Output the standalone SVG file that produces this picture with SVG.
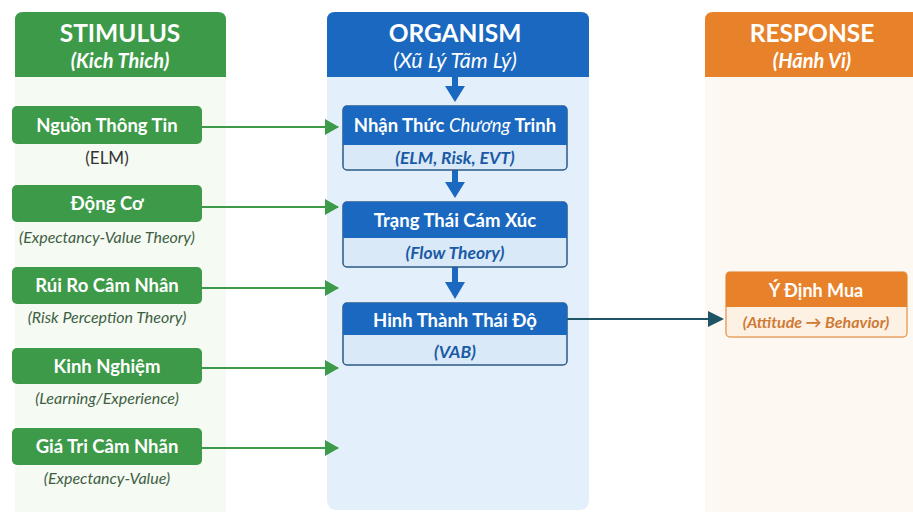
<svg xmlns="http://www.w3.org/2000/svg" width="913" height="512" viewBox="0 0 913 512">
  <style>
    .title { font-family: Lato, "Open Sans", sans-serif; font-weight: 700; font-size: 24.5px; fill: #ffffff; text-anchor: middle; }
    .subtitle { font-family: Lato, "Open Sans", sans-serif; font-weight: 700; font-style: italic; font-size: 20px; fill: #ffffff; text-anchor: middle; }
    .lbl { font-family: Lato, "Open Sans", sans-serif; font-weight: 700; font-size: 18.5px; fill: #ffffff; text-anchor: middle; }
    .note { font-family: Lato, "Open Sans", sans-serif; font-style: italic; font-size: 16px; fill: #3e5e44; text-anchor: middle; }
    .note-plain { font-family: Lato, "Open Sans", sans-serif; font-size: 17px; fill: #333333; text-anchor: middle; }
    .org-sub { font-family: Lato, "Open Sans", sans-serif; font-weight: 700; font-style: italic; font-size: 17.5px; fill: #1a5aa5; text-anchor: middle; }
    .resp-sub { font-family: Lato, "Open Sans", sans-serif; font-weight: 700; font-style: italic; font-size: 16px; fill: #cf7a35; text-anchor: middle; }
    .green-box { fill: #3d9a48; }
    .blue-head { fill: #1a68c0; }
    .blue-sub { fill: #d9e9f8; stroke: #2d5a86; stroke-width: 1.5; }
    .green-link { stroke: #3d9a48; stroke-width: 2.2; fill: none; }
    .blue-link { stroke: #1a68c0; stroke-width: 6; fill: none; }
  </style>
  <defs>
    <marker id="ah-green" markerWidth="15" markerHeight="16" refX="13" refY="8" orient="auto" markerUnits="userSpaceOnUse">
      <path d="M0,0 L14,8 L0,16 Z" fill="#3d9a48"/>
    </marker>
    <marker id="ah-teal" markerWidth="16" markerHeight="16" refX="14" refY="8" orient="auto" markerUnits="userSpaceOnUse">
      <path d="M0,0 L16,8 L0,16 Z" fill="#1d5566"/>
    </marker>
  </defs>

  <rect width="913" height="512" fill="#ffffff"/>

  <!-- column backgrounds -->
  <g id="col-stimulus">
    <rect x="15" y="70" width="211" height="442" fill="#f5faf2"/>
    <path d="M15,77 V20 Q15,12 23,12 H218 Q226,12 226,20 V77 Z" fill="#3d9a48"/>
    <text class="title" x="120" y="42">STIMULUS</text>
    <text class="subtitle" x="120" y="68">(Kich Thich)</text>
  </g>
  <g id="col-organism">
    <path d="M327,70 H589 V500 Q589,510 579,510 H337 Q327,510 327,500 Z" fill="#e3effa"/>
    <path d="M327,77 V20 Q327,12 335,12 H581 Q589,12 589,20 V77 Z" fill="#1a68c0"/>
    <text class="title" x="455" y="42">ORGANISM</text>
    <text class="subtitle" x="455" y="68" style="font-weight:400;font-size:21.5px">(Xũ Lý Tãm Lý)</text>
  </g>
  <g id="col-response">
    <rect x="705" y="70" width="208" height="442" fill="#fdf8f1"/>
    <path d="M705,77 V20 Q705,12 713,12 H913 V77 Z" fill="#e8822a"/>
    <text class="title" x="812" y="42">RESPONSE</text>
    <text class="subtitle" x="812" y="68">(Hãnh Vi)</text>
  </g>

  <!-- connectors -->
  <g id="connectors">
    <line class="green-link" x1="201" y1="127" x2="338" y2="127" marker-end="url(#ah-green)"/>
    <line class="green-link" x1="201" y1="207" x2="338" y2="207" marker-end="url(#ah-green)"/>
    <line class="green-link" x1="201" y1="288" x2="338" y2="288" marker-end="url(#ah-green)"/>
    <line class="green-link" x1="201" y1="368" x2="338" y2="368" marker-end="url(#ah-green)"/>
    <line class="green-link" x1="201" y1="448" x2="338" y2="448" marker-end="url(#ah-green)"/>

    <line class="blue-link" x1="455" y1="77" x2="455" y2="88"/>
    <path d="M445,86 L465,86 L455,102 Z" fill="#1a68c0"/>
    <line class="blue-link" x1="455" y1="170" x2="455" y2="184"/>
    <path d="M445,182 L465,182 L455,198 Z" fill="#1a68c0"/>
    <line class="blue-link" x1="455" y1="267" x2="455" y2="284"/>
    <path d="M445,282 L465,282 L455,299 Z" fill="#1a68c0"/>

    <line x1="567" y1="319" x2="722" y2="319" stroke="#1d5566" stroke-width="2.2" marker-end="url(#ah-teal)"/>
  </g>

  <!-- stimulus nodes -->
  <g id="node-nguon-thong-tin">
    <rect class="green-box" x="12" y="106" width="190" height="38" rx="5"/>
    <text class="lbl" x="107" y="131.5">Nguồn Thông Tin</text>
    <text class="note-plain" x="107" y="164">(ELM)</text>
  </g>
  <g id="node-dong-co">
    <rect class="green-box" x="12" y="185" width="190" height="37" rx="5"/>
    <text class="lbl" x="107" y="210">Động Cơ</text>
    <text class="note" x="107" y="243">(Expectancy-Value Theory)</text>
  </g>
  <g id="node-rui-ro">
    <rect class="green-box" x="12" y="267" width="190" height="37" rx="5"/>
    <text class="lbl" x="107" y="292">Rúi Ro Câm Nhân</text>
    <text class="note" x="107" y="323">(Risk Perception Theory)</text>
  </g>
  <g id="node-kinh-nghiem">
    <rect class="green-box" x="12" y="348" width="190" height="36" rx="5"/>
    <text class="lbl" x="107" y="372.5">Kinh Nghiệm</text>
    <text class="note" x="107" y="404">(Learning/Experience)</text>
  </g>
  <g id="node-gia-tri">
    <rect class="green-box" x="12" y="428" width="190" height="37" rx="5"/>
    <text class="lbl" x="107" y="453">Giá Tri Câm Nhãn</text>
    <text class="note" x="107" y="484">(Expectancy-Value)</text>
  </g>

  <!-- organism nodes -->
  <g id="node-nhan-thuc">
    <rect class="blue-sub" x="343" y="106" width="224" height="64" rx="4"/>
    <path d="M343,145 V110 Q343,106 347,106 H563 Q567,106 567,110 V145 Z" class="blue-head"/>
    <text class="lbl" x="455" y="132">Nhận Thức <tspan font-style="italic" font-weight="400">Chương</tspan> Trinh</text>
    <text class="org-sub" x="455" y="164">(ELM, Risk, EVT)</text>
  </g>
  <g id="node-trang-thai">
    <rect class="blue-sub" x="343" y="202" width="224" height="65" rx="4"/>
    <path d="M343,238 V206 Q343,202 347,202 H563 Q567,202 567,206 V238 Z" class="blue-head"/>
    <text class="lbl" x="455" y="227">Trạng Thái Cám Xúc</text>
    <text class="org-sub" x="455" y="259">(Flow Theory)</text>
  </g>
  <g id="node-hinh-thanh">
    <rect class="blue-sub" x="343" y="303" width="224" height="62" rx="4"/>
    <path d="M343,335 V307 Q343,303 347,303 H563 Q567,303 567,307 V335 Z" class="blue-head"/>
    <text class="lbl" x="455" y="327">Hinh Thành Thái Độ</text>
    <text class="org-sub" x="455" y="358">(VAB)</text>
  </g>

  <!-- response node -->
  <g id="node-y-dinh-mua">
    <rect x="726" y="272" width="181" height="65" rx="4" fill="#fdf1e3" stroke="#e8a265" stroke-width="1.5"/>
    <path d="M726,307 V276 Q726,272 730,272 H903 Q907,272 907,276 V307 Z" fill="#e8822a"/>
    <text class="lbl" x="816" y="297" style="font-size:18px">Ý Định Mua</text>
    <text class="resp-sub" x="816" y="328">(Attitude → Behavior)</text>
  </g>
</svg>
